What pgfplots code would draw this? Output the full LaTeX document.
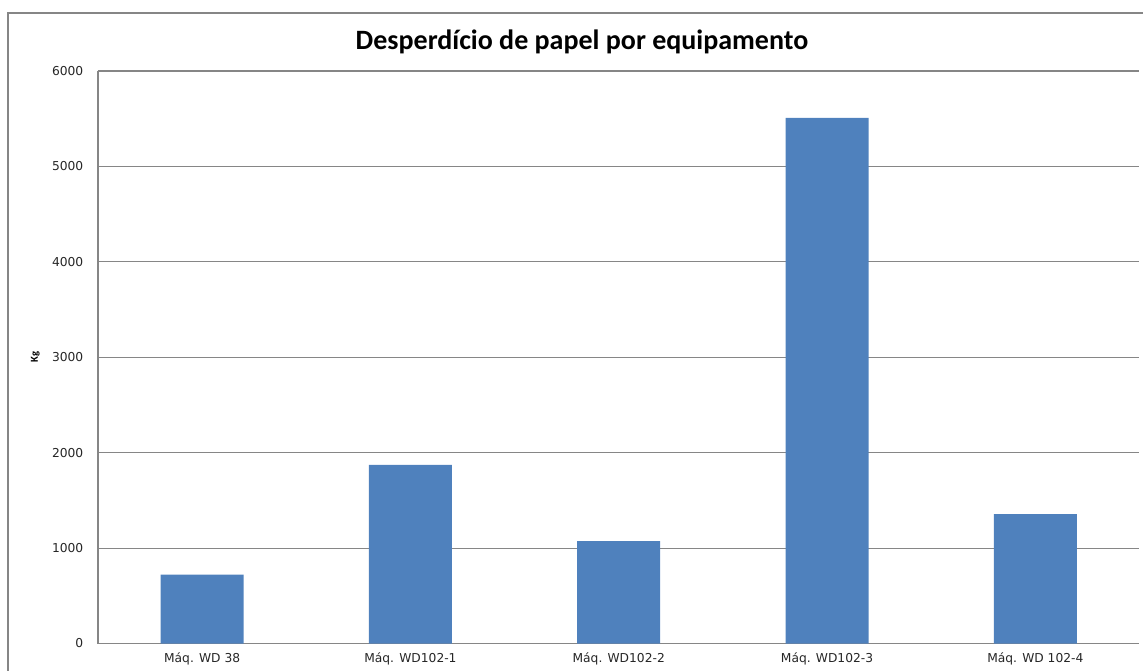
\documentclass[border=0pt]{standalone}
\usepackage{pgfplots}
\pgfplotsset{compat=1.18}
\usepackage{fontspec}
\setmainfont{Carlito}
\newfontfamily\tickfont{DejaVu Sans}
\definecolor{barblue}{HTML}{4F81BD}
\definecolor{gridgray}{HTML}{868686}
\begin{document}
\begin{tikzpicture}
\path[use as bounding box] (0pt,0pt) rectangle (857.25pt,503.25pt);
% outer chart frame
\draw[gridgray,line width=0.9pt] (6pt,0pt) -- (6pt,493.5pt) -- (857.25pt,493.5pt);
\node[font=\bfseries\fontsize{21}{24}\selectfont] at (436.5pt,471.75pt) {Desperdício de papel por equipamento};
\begin{axis}[
  at={(73.5pt,20.6pt)}, anchor=south west,
  scale only axis,
  width=781.1pt, height=429.4pt,
  ybar, bar width=62.25pt,
  xmin=-0.5, xmax=4.5,
  ymin=0, ymax=6000,
  ytick={0,1000,...,6000},
  xtick=data,
  xticklabels={Máq. WD 38, Máq. WD102-1, Máq. WD102-2, Máq. WD102-3, Máq. WD 102-4},
  axis lines*=left,
  axis line style={-,gridgray,line width=0.8pt},
  x axis line style={draw=none},
  ymajorgrids,
  grid style={gridgray,line width=0.8pt},
  major tick length=0pt,
  /pgf/number format/assume math mode=true,
  /pgf/number format/1000 sep={},
  tick label style={font=\tickfont\fontsize{9.2}{11}\selectfont, text=black!85},
  yticklabel style={xshift=-7.5pt},
  xticklabel style={yshift=-3pt},
  ylabel={\textbf{Kg}},
  ylabel style={font=\fontsize{8}{9}\selectfont, at={(axis description cs:0,0.5)}, anchor=center, yshift=47pt},
]
\addplot[ybar, bar shift=0pt, fill=barblue, draw=none] coordinates {(0,721) (1,1871) (2,1074) (3,5510) (4,1357)};
\end{axis}
\end{tikzpicture}
\end{document}
